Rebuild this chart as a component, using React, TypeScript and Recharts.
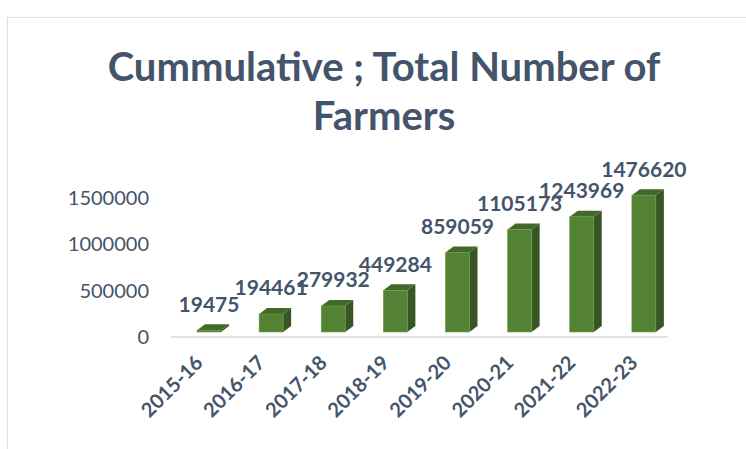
import * as React from 'react'
import { BarChart, Bar, XAxis, YAxis, LabelList } from 'recharts'

const years = ['2015-16', '2016-17', '2017-18', '2018-19', '2019-20', '2020-21', '2021-22', '2022-23']
const farmers = [19475, 194461, 279932, 449284, 859059, 1105173, 1243969, 1476620]
const yTicks = [0, 500000, 1000000, 1500000]

const data = years.map((year, i) => ({ year, farmers: farmers[i] }))

const TEXT = '#44546A'
const FONT = 'Lato, "Open Sans", sans-serif'
// small shift so the faces sit like the excel 3d columns
const SHIFT_X = 7
const SHIFT_Y = -5
const DEPTH_X = 8
const DEPTH_Y = 6

function Column(props: any) {
  const { x, y, width, height } = props
  const fx = x + SHIFT_X
  const fy = y + SHIFT_Y
  const h = Math.max(height, 0)
  return (
    <g>
      <polygon
        points={`${fx + width},${fy} ${fx + width + DEPTH_X},${fy - DEPTH_Y} ${fx + width + DEPTH_X},${fy + h - DEPTH_Y} ${fx + width},${fy + h}`}
        fill='#375623'
      />
      <polygon
        points={`${fx},${fy} ${fx + DEPTH_X},${fy - DEPTH_Y} ${fx + width + DEPTH_X},${fy - DEPTH_Y} ${fx + width},${fy}`}
        fill='#43692A'
      />
      <rect x={fx} y={fy} width={width} height={h} fill='#548235' stroke='#6A9A45' strokeWidth={0.6} />
    </g>
  )
}

function ValueLabel(props: any) {
  const { x, y, width, value } = props
  return (
    <text
      x={x + width / 2 + SHIFT_X}
      y={y + SHIFT_Y - DEPTH_Y - 18}
      textAnchor='middle'
      dominantBaseline='middle'
      fill={TEXT}
      fontSize={21}
      fontWeight={700}
      fontFamily={FONT}
    >
      {value}
    </text>
  )
}

function YearTick(props: any) {
  const { x, y, payload } = props
  return (
    <text
      transform={`translate(${x + 2},${y + 19}) rotate(-45)`}
      textAnchor='end'
      fill={TEXT}
      fontSize={20}
      fontWeight={700}
      fontFamily={FONT}
    >
      {payload.value}
    </text>
  )
}

export default function App() {
  return (
    <div style={{ position: 'absolute', left: 0, top: 0, width: 746, height: 449, background: '#fff' }}>
      <div
        style={{
          position: 'absolute',
          left: 7,
          top: 17,
          right: 0,
          bottom: 0,
          borderLeft: '1.5px solid #DDE1E5',
          borderTop: '1.5px solid #DDE1E5'
        }}
      />
      <div
        style={{
          position: 'absolute',
          left: 0,
          top: 42,
          width: 768,
          textAlign: 'center',
          color: TEXT,
          fontFamily: FONT,
          fontWeight: 700,
          fontSize: 40,
          lineHeight: '49px'
        }}
      >
        Cummulative ; Total Number of
        <br />
        Farmers
      </div>
      <div style={{ position: 'absolute', left: 0, top: 0 }}>
        <BarChart
          width={746}
          height={449}
          data={data}
          margin={{ top: 198, right: 78, bottom: 32, left: 71 }}
        >
          <XAxis
            dataKey='year'
            height={80}
            tickLine={false}
            axisLine={{ stroke: '#D9D9D9', strokeWidth: 1.5 }}
            interval={0}
            tick={<YearTick />}
          />
          <YAxis
            width={100}
            domain={[0, 1500000]}
            ticks={yTicks}
            axisLine={false}
            tickLine={false}
            tickSize={0}
            tickMargin={22}
            tick={{ fill: TEXT, fontSize: 20, fontFamily: FONT }}
          />
          <Bar dataKey='farmers' barSize={24} shape={<Column />} isAnimationActive={false}>
            <LabelList dataKey='farmers' content={<ValueLabel />} />
          </Bar>
        </BarChart>
      </div>
    </div>
  )
}
